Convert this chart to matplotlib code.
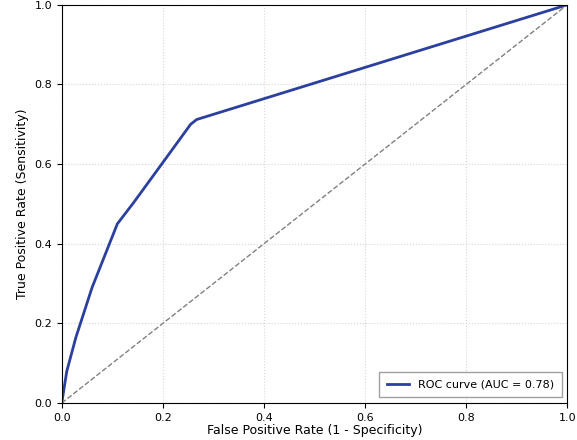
import matplotlib.pyplot as plt

fpr = [0.0, 0.01, 0.028, 0.06, 0.085, 0.11, 0.142, 0.2, 0.255, 0.267, 1.0]
tpr = [0.0, 0.08, 0.165, 0.29, 0.37, 0.45, 0.503, 0.604, 0.70, 0.712, 1.0]
auc = 0.78

fig = plt.figure(figsize=(5.77, 4.40), dpi=100)
ax = fig.add_axes([0.107, 0.084, 0.876, 0.905])
ax.plot(fpr, tpr, color='#2b3f9e', lw=2, label=f'ROC curve (AUC = {auc:.2f})')
ax.plot([0, 1], [0, 1], color='gray', lw=1, linestyle='--')
ax.set_xlim(0, 1)
ax.set_ylim(0, 1)
ax.set_xlabel('False Positive Rate (1 - Specificity)', fontsize=9, labelpad=1)
ax.set_ylabel('True Positive Rate (Sensitivity)', fontsize=9)
ax.tick_params(labelsize=8)
ax.grid(True, linestyle=':', alpha=0.5)
ax.legend(loc='lower right', fontsize=8, fancybox=False, edgecolor='#888888',
          borderpad=0.7)

fig.savefig('out.png', dpi=100)
